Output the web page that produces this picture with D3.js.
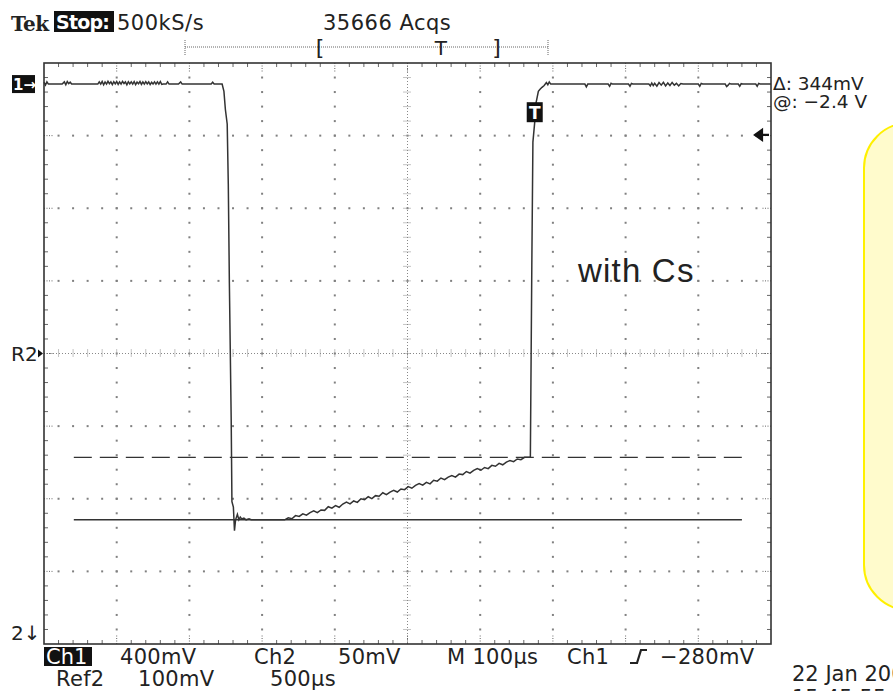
<!DOCTYPE html>
<html>
<head>
<meta charset="utf-8">
<script src="https://d3js.org/d3.v7.min.js"></script>
<style>
  body { margin: 0; background: #fff; }
  svg text { font-family: "DejaVu Sans", sans-serif; fill: #222; }
  .inv { fill: #fff; }
  .dot { fill: #808080; }
</style>
</head>
<body>
<svg id="scope" width="893" height="691"></svg>
<script>
// Ch1 trace: time in µs from the left edge of the screen, voltage in V (ground = 0)
const timeUs = [
  0, 2, 4, 6, 10, 25, 28, 30, 32, 34, 36, 38, 50, 74, 76, 78, 80, 82, 84, 86, 88, 90,
  92, 94, 96, 98, 100, 102, 104, 106, 108, 110, 112, 114, 116, 118, 120, 122, 124, 126,
  128, 130, 132, 134, 136, 138, 140, 142, 144, 146, 148, 150, 152, 154, 156, 158, 160,
  162, 164, 168, 170, 172, 185, 188, 190, 230, 232, 234, 245,
  247.5, 249.5, 252, 253.5, 255, 257.5, 258.5, 260.5, 262, 263.5, 266, 268, 270, 272,
  275, 278, 282, 285, 300, 325,
  331, 336, 341, 346, 351, 356, 361, 366, 371, 376, 381, 386, 391, 396, 401, 406, 411,
  416, 421, 426, 431, 436, 441, 446, 451, 456, 461, 466, 471, 476, 481, 486, 491, 496,
  501, 506, 511, 516, 521, 526, 531, 536, 541, 546, 551, 556, 561, 566, 571, 576, 581,
  586, 591, 596, 601, 606, 611, 616, 621, 626, 631, 636, 641, 646, 651, 656, 661, 666,
  669, 671, 672.5, 675, 676, 680, 682, 685, 688, 691, 693, 695, 697,
  700, 744, 746, 748, 776, 778, 780, 782, 804, 806, 808, 810, 832, 834, 836, 838, 840,
  843, 846, 849, 852, 855, 858, 861, 864, 867, 870, 873, 876, 879, 900, 902, 904, 906,
  937, 939, 941, 943, 945, 955, 957, 959, 961, 979, 981, 983, 985, 1000
];
const ch1Volts = [
  0.01, -0.005, 0.012, 0, 0, 0, 0.012, -0.004, 0.014, 0.002, 0.01, 0, 0, 0, 0.012, 0, 0.014, -0.004, 0.012, 0, 0.015, 0.002,
  0.012, -0.003, 0.013, 0.001, 0.014, -0.002, 0.012, 0, 0.015, 0.003, 0.012, -0.004, 0.013, 0.001, 0.012, 0, 0.014, -0.003,
  0.011, 0.002, 0.014, -0.002, 0.012, 0, 0.013, 0.001, 0.012, -0.003, 0.01, 0, 0.012, 0, 0.012, 0, 0.014,
  -0.002, 0, 0, 0.012, 0, 0, 0.012, 0, 0, 0.01, 0, 0,
  -0.04, -0.14, -0.22, -0.55, -1.1, -1.85, -2.3, -2.33, -2.46, -2.4, -2.37, -2.4, -2.385, -2.395,
  -2.39, -2.4, -2.395, -2.4, -2.4, -2.4,
  -2.4, -2.389, -2.394, -2.377, -2.381, -2.367, -2.374, -2.36, -2.35, -2.36, -2.346, -2.348, -2.328, -2.336, -2.322, -2.331, -2.313,
  -2.302, -2.312, -2.296, -2.304, -2.284, -2.289, -2.273, -2.283, -2.267, -2.27, -2.251, -2.261, -2.247, -2.237, -2.247, -2.23, -2.234,
  -2.217, -2.226, -2.21, -2.2, -2.209, -2.194, -2.202, -2.182, -2.187, -2.17, -2.179, -2.165, -2.156, -2.165, -2.148, -2.151, -2.134,
  -2.143, -2.128, -2.118, -2.127, -2.112, -2.118, -2.1, -2.105, -2.089, -2.097, -2.082, -2.073, -2.08, -2.065, -2.069, -2.056, -2.056,
  -2.056, -1.0, -0.32, -0.21, -0.12, -0.04, -0.03, -0.018, -0.008, 0.008, -0.004, 0.012, 0,
  0, 0, -0.015, 0, 0, -0.012, 0.004, 0, 0, -0.012, 0.003, 0, 0, -0.01, 0.006, -0.008, 0.004,
  -0.012, 0.008, -0.006, 0.01, -0.01, 0.006, -0.008, 0.009, -0.006, 0.004, -0.01, 0.003, 0, 0, -0.012, 0.003, 0,
  0, -0.014, -0.006, 0.004, 0, 0, -0.012, 0.002, 0, 0, -0.012, 0.003, 0, 0
];

// cursors (solid, dashed) in volts and the time span they are drawn over
const cursorVolts = [-2.4, -2.056];
const cursorStyles = ["none", "18,8"];
const cursorSpanUs = [41, 960];

const triggerLevelV = -0.28;
const triggerTimeUs = 675;
const ch1GroundDiv = 3.71;   // ch1 ground, divisions above centre
const voltsPerDiv = 0.4;

// record bar: visible window and trigger as fractions of the record
const recordWindow = [0.36, 0.87];
const recordTrigger = 0.705;

const topLabels = [
  { text: "500kS/s", x: 117 },
  { text: "35666 Acqs", x: 323 }
];
const readouts = ["\u0394: 344mV", "@: \u22122.4 V"];
const bottomRow1 = [
  { text: "400mV", x: 120 }, { text: "Ch2", x: 254 }, { text: "50mV", x: 338 },
  { text: "M 100\u00b5s", x: 447 }, { text: "Ch1", x: 567 }, { text: "\u2212280mV", x: 660 }
];
const bottomRow2 = [
  { text: "Ref2", x: 56 }, { text: "100mV", x: 138 }, { text: "500\u00b5s", x: 270 }
];

const svg = d3.select("#scope");
const scrLeft = 44, scrRight = 771, scrTop = 63, scrBottom = 644;

const x = d3.scaleLinear().domain([0, 1000]).range([scrLeft, scrRight]);
const y = d3.scaleLinear()
  .domain([(-4 - ch1GroundDiv) * voltsPerDiv, (4 - ch1GroundDiv) * voltsPerDiv])
  .range([scrBottom, scrTop]);
const gx = d3.scaleLinear().domain([0, 10]).range([scrLeft, scrRight]);
const gy = d3.scaleLinear().domain([-4, 4]).range([scrBottom, scrTop]);

// yellow note box on the right (runs off the page)
svg.append("rect")
  .attr("x", 864).attr("y", 123).attr("width", 90).attr("height", 487)
  .attr("rx", 45).attr("ry", 45)
  .attr("fill", "#fffbcc").attr("stroke", "#fff000").attr("stroke-width", 2);

const grid = svg.append("g");

// dotted major lines
d3.range(1, 10).filter(i => i !== 5).forEach(i => {
  d3.range(1, 40).forEach(j => {
    grid.append("rect").attr("class", "dot")
      .attr("x", gx(i) - 1).attr("y", gy(-4 + j / 5) - 1)
      .attr("width", 2).attr("height", 2);
  });
});
d3.range(-3, 4).filter(k => k !== 0).forEach(k => {
  d3.range(1, 50).forEach(m => {
    grid.append("rect").attr("class", "dot")
      .attr("x", gx(m / 5) - 1).attr("y", gy(k) - 1)
      .attr("width", 2).attr("height", 2);
  });
});

// centre lines with cross ticks
grid.append("line")
  .attr("x1", gx(5)).attr("x2", gx(5)).attr("y1", scrTop).attr("y2", scrBottom)
  .attr("stroke", "#888").attr("stroke-dasharray", "1,2");
grid.append("line")
  .attr("x1", scrLeft).attr("x2", scrRight).attr("y1", gy(0)).attr("y2", gy(0))
  .attr("stroke", "#888").attr("stroke-dasharray", "1,2");
d3.range(1, 40).forEach(j => {
  grid.append("line")
    .attr("x1", gx(5) - 4).attr("x2", gx(5) + 4)
    .attr("y1", gy(-4 + j / 5)).attr("y2", gy(-4 + j / 5))
    .attr("stroke", "#888").attr("stroke-dasharray", "1,1");
});
d3.range(1, 50).forEach(m => {
  grid.append("line")
    .attr("x1", gx(m / 5)).attr("x2", gx(m / 5))
    .attr("y1", gy(0) - 4).attr("y2", gy(0) + 4)
    .attr("stroke", "#888").attr("stroke-dasharray", "1,1");
});

// edge ticks
d3.range(1, 50).forEach(m => {
  const len = m % 5 === 0 ? 9 : 4;
  const dash = m % 5 === 0 ? "1,1.5" : null;
  grid.append("line").attr("x1", gx(m / 5)).attr("x2", gx(m / 5))
    .attr("y1", scrTop).attr("y2", scrTop + len).attr("stroke", "#666").attr("stroke-dasharray", dash);
  grid.append("line").attr("x1", gx(m / 5)).attr("x2", gx(m / 5))
    .attr("y1", scrBottom).attr("y2", scrBottom - len).attr("stroke", "#666").attr("stroke-dasharray", dash);
});
d3.range(1, 40).forEach(j => {
  const len = j % 5 === 0 ? 9 : 4;
  const dash = j % 5 === 0 ? "1,1.5" : null;
  grid.append("line").attr("y1", gy(-4 + j / 5)).attr("y2", gy(-4 + j / 5))
    .attr("x1", scrLeft).attr("x2", scrLeft + len).attr("stroke", "#666").attr("stroke-dasharray", dash);
  grid.append("line").attr("y1", gy(-4 + j / 5)).attr("y2", gy(-4 + j / 5))
    .attr("x1", scrRight).attr("x2", scrRight - len).attr("stroke", "#666").attr("stroke-dasharray", dash);
});

// frame
svg.append("rect")
  .attr("x", scrLeft).attr("y", scrTop).attr("width", scrRight - scrLeft).attr("height", scrBottom - scrTop)
  .attr("fill", "none").attr("stroke", "#333").attr("stroke-width", 1.6);

// cursors
cursorVolts.forEach((v, i) => {
  svg.append("line")
    .attr("x1", x(cursorSpanUs[0])).attr("x2", x(cursorSpanUs[1]))
    .attr("y1", y(v)).attr("y2", y(v))
    .attr("stroke", "#333").attr("stroke-width", 1.4)
    .attr("stroke-dasharray", cursorStyles[i]);
});

// Ch1 trace
const trace = d3.range(timeUs.length).map(i => [timeUs[i], ch1Volts[i]]);
svg.append("path")
  .datum(trace)
  .attr("fill", "none").attr("stroke", "#333").attr("stroke-width", 1.5)
  .attr("d", d3.line().x(d => x(d[0])).y(d => y(d[1])));

// trigger point marker on the trace
const tBox = svg.append("g").attr("transform", `translate(${x(triggerTimeUs)},${y(-0.155)})`);
tBox.append("rect").attr("x", -8).attr("y", -10).attr("width", 16).attr("height", 20).attr("fill", "#111");
tBox.append("text").attr("class", "inv").attr("text-anchor", "middle").attr("y", 7)
  .attr("font-size", 17).attr("font-weight", "bold").text("T");

// trigger level arrow at the right edge
const ty = y(triggerLevelV);
svg.append("path")
  .attr("d", `M${scrRight - 2},${ty} L${scrRight - 12},${ty} M${scrRight - 16},${ty} L${scrRight - 9},${ty - 5} L${scrRight - 9},${ty + 5} Z`)
  .attr("stroke", "#111").attr("stroke-width", 2.2).attr("fill", "#111");

// record bar above the screen
const rb = d3.scaleLinear().domain([0, 1]).range([185, 548]);
svg.append("line").attr("x1", rb(0)).attr("x2", rb(1)).attr("y1", 47).attr("y2", 47)
  .attr("stroke", "#666").attr("stroke-dasharray", "1,1");
[0, 1].forEach(f => {
  svg.append("line").attr("x1", rb(f)).attr("x2", rb(f)).attr("y1", 40).attr("y2", 56)
    .attr("stroke", "#666").attr("stroke-dasharray", "1,1");
});
svg.append("text").attr("x", rb(recordWindow[0])).attr("y", 55).attr("font-size", 22).text("[");
svg.append("text").attr("x", rb(recordWindow[1])).attr("y", 55).attr("font-size", 22)
  .attr("text-anchor", "end").text("]");
svg.append("text").attr("x", rb(recordTrigger)).attr("y", 55).attr("font-size", 20)
  .attr("text-anchor", "middle").text("T");

// header
svg.append("text").attr("x", 11).attr("y", 31)
  .style("font-family", "'DejaVu Serif', serif").attr("font-weight", "bold").attr("font-size", 20)
  .attr("letter-spacing", -0.5).text("Tek");
svg.append("rect").attr("x", 54).attr("y", 11).attr("width", 60).attr("height", 21).attr("fill", "#111");
svg.append("text").attr("class", "inv").attr("x", 56).attr("y", 29)
  .attr("font-weight", "bold").attr("font-size", 19).attr("letter-spacing", -0.8).text("Stop:");
topLabels.forEach(d => {
  svg.append("text").attr("x", d.x).attr("y", 30).attr("font-size", 21).attr("letter-spacing", 0.5).text(d.text);
});

// right readouts
readouts.forEach((t, i) => {
  svg.append("text").attr("x", 773).attr("y", 90 + i * 18).attr("font-size", 18.5).text(t);
});

// channel markers on the left
svg.append("rect").attr("x", 12).attr("y", y(0) - 9).attr("width", 23).attr("height", 18).attr("fill", "#111");
svg.append("text").attr("class", "inv").attr("x", 13).attr("y", y(0) + 6)
  .attr("font-size", 15).attr("font-weight", "bold").text("1\u2192");
svg.append("text").attr("x", 11).attr("y", gy(0) + 7).attr("font-size", 20).text("R2");
svg.append("path")
  .attr("d", `M${scrLeft - 6},${gy(0) - 4} L${scrLeft - 1},${gy(0)} L${scrLeft - 6},${gy(0) + 4} Z`)
  .attr("fill", "#111");
svg.append("text").attr("x", 11).attr("y", 640).attr("font-size", 20).text("2\u2193");

// annotation
svg.append("text").attr("x", 578).attr("y", 282)
  .style("font-family", "'Liberation Sans', Arial, sans-serif").attr("font-size", 33)
  .attr("letter-spacing", 1.2).text("with Cs");

// bottom readouts
svg.append("rect").attr("x", 44).attr("y", 647).attr("width", 48).attr("height", 19).attr("fill", "#111");
svg.append("text").attr("class", "inv").attr("x", 46).attr("y", 664).attr("font-size", 21).text("Ch1");
bottomRow1.forEach(d => {
  svg.append("text").attr("x", d.x).attr("y", 664).attr("font-size", 21).attr("letter-spacing", 0.3).text(d.text);
});
bottomRow2.forEach(d => {
  svg.append("text").attr("x", d.x).attr("y", 686).attr("font-size", 21).attr("letter-spacing", 0.3).text(d.text);
});
// rising-edge trigger symbol
svg.append("path").attr("d", "M630,663 L637,663 L641,650 L647,650")
  .attr("fill", "none").attr("stroke", "#222").attr("stroke-width", 2.2);

svg.append("text").attr("x", 792).attr("y", 681).attr("font-size", 21).text("22 Jan 2000");
svg.append("text").attr("x", 792).attr("y", 705).attr("font-size", 21).text("15:45:55");
</script>
</body>
</html>
